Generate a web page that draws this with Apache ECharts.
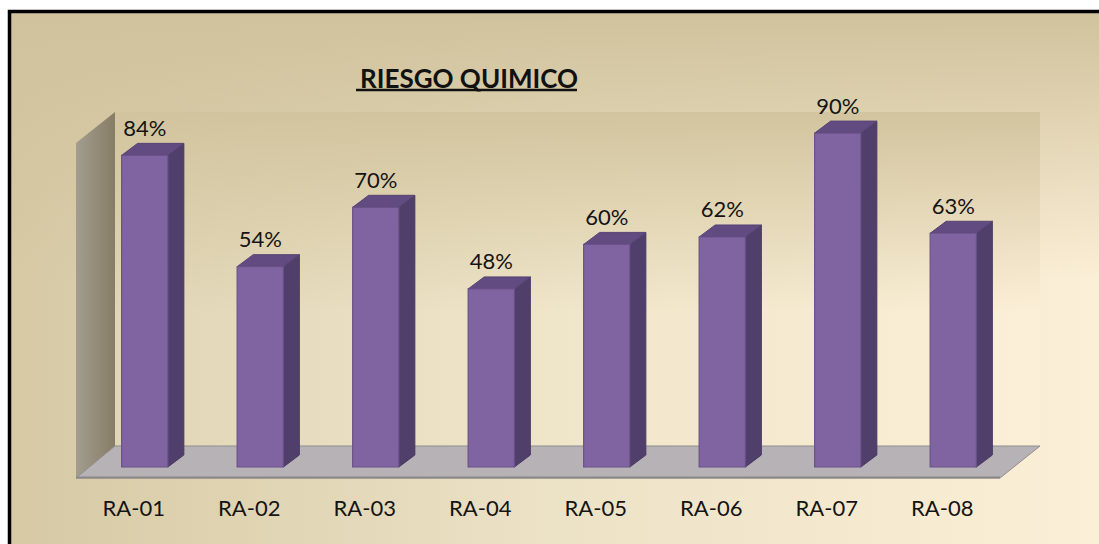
<!DOCTYPE html>
<html>
<head>
<meta charset="utf-8">
<script src="https://cdn.jsdelivr.net/npm/echarts@6/dist/echarts.min.js"></script>
<style>
  html, body { margin: 0; padding: 0; background: #fff; }
  #chart { width: 1099px; height: 544px; }
</style>
</head>
<body>
<div id="chart"></div>
<script>
const categories = ["RA-01", "RA-02", "RA-03", "RA-04", "RA-05", "RA-06", "RA-07", "RA-08"];
const values = [84, 54, 70, 48, 60, 62, 90, 63];
const titleText = "RIESGO QUIMICO";

const FONT = "Lato, 'Open Sans', sans-serif";

// 3D depth of the bars (px)
const DX = 16;
const DY = 12;

const chart = echarts.init(document.getElementById("chart"), null, { renderer: "svg" });

const lin = (x, y, x2, y2, stops) => new echarts.graphic.LinearGradient(x, y, x2, y2, stops);

const option = {
  backgroundColor: "#ffffff",
  animation: false,
  title: {
    text: titleText,
    left: 464,
    top: 60,
    textAlign: "center",
    textStyle: { fontFamily: FONT, fontSize: 26, fontWeight: "bold", color: "#111" }
  },
  grid: [
    // plane where the bars stand (mid depth)
    { left: 87, top: 96, width: 924, height: 371 },
    // front plane, used for the category labels
    { left: 76, top: 107, width: 924, height: 371 }
  ],
  xAxis: [
    { type: "category", gridIndex: 0, data: categories, show: false },
    {
      type: "category",
      gridIndex: 1,
      data: categories,
      axisLine: { show: false },
      axisTick: { show: false },
      axisLabel: { margin: 18, fontFamily: FONT, fontSize: 22, color: "#141414" }
    }
  ],
  yAxis: [
    { type: "value", gridIndex: 0, min: 0, max: 100, show: false },
    { type: "value", gridIndex: 1, min: 0, max: 100, show: false }
  ],
  graphic: [
    // chart area background
    {
      type: "rect", z: 0,
      shape: { x: 9, y: 11, width: 1100, height: 540 },
      style: { fill: lin(0, 0, 1, 0, [
        { offset: 0, color: "#d6c9a4" },
        { offset: 0.5, color: "#ece2c6" },
        { offset: 1, color: "#fcefd7" }
      ]) }
    },
    {
      type: "rect", z: 0,
      shape: { x: 9, y: 11, width: 1100, height: 540 },
      style: { fill: lin(0, 0, 0, 1, [
        { offset: 0, color: "rgba(208,194,156,1)" },
        { offset: 0.5, color: "rgba(208,194,156,0)" }
      ]) }
    },
    // back wall
    {
      type: "rect", z: 1,
      shape: { x: 115, y: 112, width: 925, height: 334 },
      style: { fill: lin(0, 0, 1, 0, [
        { offset: 0, color: "#e0d5b6" },
        { offset: 0.5, color: "#f0e6ca" },
        { offset: 1, color: "#fcefd7" }
      ]) }
    },
    {
      type: "rect", z: 1,
      shape: { x: 115, y: 112, width: 925, height: 334 },
      style: { fill: lin(0, 0, 0, 1, [
        { offset: 0, color: "rgba(210,196,158,1)" },
        { offset: 0.6, color: "rgba(210,196,158,0)" }
      ]) }
    },
    // left wall
    {
      type: "polygon", z: 1,
      shape: { points: [[76, 143], [115, 112], [115, 446], [76, 478]] },
      style: { fill: lin(0, 0, 1, 0, [
        { offset: 0, color: "#a29d8f" },
        { offset: 1, color: "#877d66" }
      ]) }
    },
    // floor
    {
      type: "polygon", z: 1,
      shape: { points: [[115, 446], [1040, 446], [1000, 478], [76, 478]] },
      style: { fill: "#b6b2b6", stroke: "#8f8d8d", lineWidth: 1 }
    },
    {
      type: "line", z: 1,
      shape: { x1: 76, y1: 477.5, x2: 1000, y2: 477.5 },
      style: { stroke: "#8a8888", lineWidth: 2 }
    },
    // title underline
    {
      type: "line", z: 3,
      shape: { x1: 356, y1: 90, x2: 577, y2: 90 },
      style: { stroke: "#111", lineWidth: 2.5 }
    },
    // outer frame
    {
      type: "rect", z: 100,
      shape: { x: 9.5, y: 11.5, width: 1200, height: 600 },
      style: { fill: "none", stroke: "#000", lineWidth: 3.5 }
    }
  ],
  series: [
    {
      type: "custom",
      xAxisIndex: 0,
      yAxisIndex: 0,
      z: 10,
      data: values.map((v, i) => [i, v]),
      encode: { x: 0, y: 1 },
      renderItem: (params, api) => {
        const idx = api.value(0);
        const val = api.value(1);
        const top = api.coord([idx, val]);
        const base = api.coord([idx, 0]);
        const w = api.size([1, 0])[0] * 0.4;
        const x0 = top[0] - w / 2;
        const x1 = top[0] + w / 2;
        const y0 = top[1];
        const y1 = base[1];
        return {
          type: "group",
          children: [
            {
              type: "polygon",
              shape: { points: [[x1, y0], [x1 + DX, y0 - DY], [x1 + DX, y1 - DY], [x1, y1]] },
              style: { fill: "#503f6b", stroke: "#4a3a63", lineWidth: 1 }
            },
            {
              type: "polygon",
              shape: { points: [[x0, y0], [x0 + DX, y0 - DY], [x1 + DX, y0 - DY], [x1, y0]] },
              style: { fill: "#614b80", stroke: "#574475", lineWidth: 1 }
            },
            {
              type: "rect",
              shape: { x: x0, y: y0, width: w, height: y1 - y0 },
              style: { fill: "#8064a2", stroke: "#6a5189", lineWidth: 1.2 }
            },
            {
              type: "text",
              style: {
                x: top[0],
                y: y0 - 28,
                text: val + "%",
                align: "center",
                verticalAlign: "middle",
                fontFamily: FONT,
                fontSize: 22,
                fill: "#141414"
              }
            }
          ]
        };
      }
    }
  ]
};

chart.setOption(option);
</script>
</body>
</html>
